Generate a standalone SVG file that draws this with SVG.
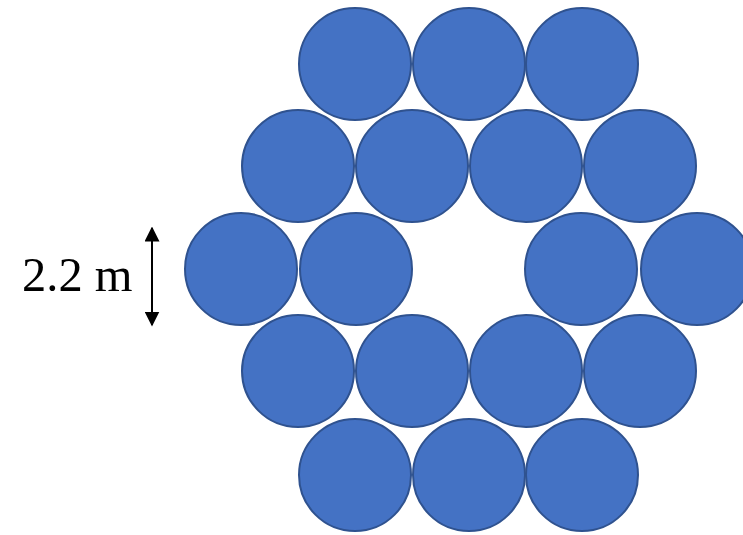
<svg xmlns="http://www.w3.org/2000/svg" width="743" height="535" viewBox="0 0 743 535">
<style>
.c{fill:#4472C4;stroke:#2F528F;stroke-width:2}
.t{font-family:"Liberation Serif",serif;font-size:48.5px;fill:#000}
</style>
<defs>
<marker id="ah" viewBox="0 0 10 10" refX="9" refY="5" markerWidth="7.5" markerHeight="7.5" orient="auto-start-reverse" markerUnits="strokeWidth">
<path d="M0,0 L10,5 L0,10 Z" fill="#000"/>
</marker>
</defs>
<rect width="743" height="535" fill="#fff"/>
<g id="row1">
<circle id="c1" class="c" cx="355" cy="64" r="56"/>
<circle id="c2" class="c" cx="469" cy="64" r="56"/>
<circle id="c3" class="c" cx="582" cy="64" r="56"/>
</g>
<g id="row2">
<circle id="c4" class="c" cx="298" cy="166" r="56"/>
<circle id="c5" class="c" cx="412" cy="166" r="56"/>
<circle id="c6" class="c" cx="526" cy="166" r="56"/>
<circle id="c7" class="c" cx="640" cy="166" r="56"/>
</g>
<g id="row3">
<circle id="c8" class="c" cx="241" cy="269" r="56"/>
<circle id="c9" class="c" cx="356" cy="269" r="56"/>
<circle id="c10" class="c" cx="581" cy="269" r="56"/>
<circle id="c11" class="c" cx="697" cy="269" r="56"/>
</g>
<g id="row4">
<circle id="c12" class="c" cx="298" cy="371" r="56"/>
<circle id="c13" class="c" cx="412" cy="371" r="56"/>
<circle id="c14" class="c" cx="526" cy="371" r="56"/>
<circle id="c15" class="c" cx="640" cy="371" r="56"/>
</g>
<g id="row5">
<circle id="c16" class="c" cx="355" cy="475" r="56"/>
<circle id="c17" class="c" cx="469" cy="475" r="56"/>
<circle id="c18" class="c" cx="582" cy="475" r="56"/>
</g>
<g id="connectors">
<line x1="152" y1="228" x2="152" y2="325" stroke="#000" stroke-width="2" marker-start="url(#ah)" marker-end="url(#ah)"/>
</g>
<g id="label">
<text class="t" x="22" y="291">2.2 m</text>
</g>
</svg>
